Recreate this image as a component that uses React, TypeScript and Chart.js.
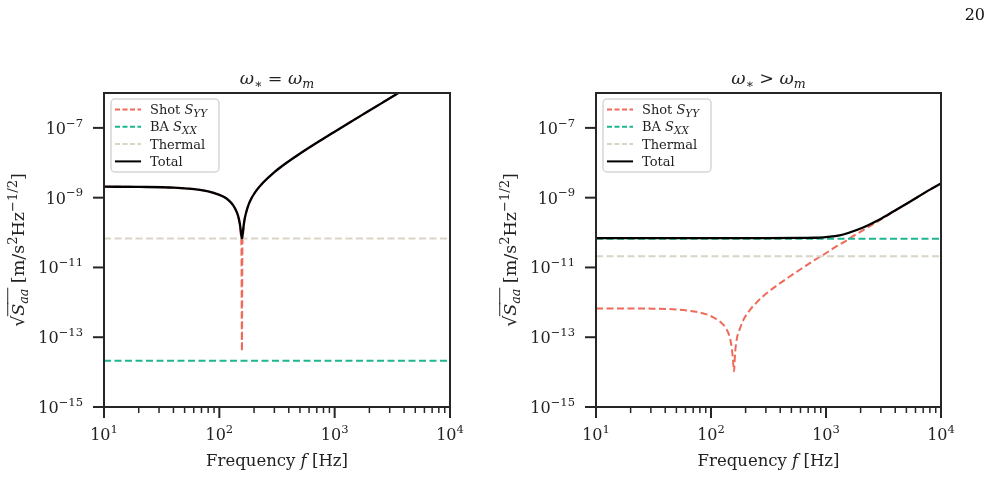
import React, { useEffect, useRef } from 'react';
import { Chart, registerables } from 'chart.js';
Chart.register(...registerables);

const FONT = "'DejaVu Serif', 'Liberation Serif', serif";
const RED = '#ef6a5a';
const GREEN = '#1fb58f';
const BEIGE = '#d8d4c6';
const FRAME = '#262626';

const X_MIN = 10;
const X_MAX = 1e4;
const Y_MIN = 1e-15;
const Y_MAX = 1e-6;
const xMajorTicks = [10, 100, 1000, 10000];
const xMajorExps = ['1', '2', '3', '4'];
const xMinorMult = [2, 3, 4, 5, 6, 7, 8, 9];
const yMajorTicks = [1e-15, 1e-13, 1e-11, 1e-9, 1e-7];
const yMajorExps = ['−15', '−13', '−11', '−9', '−7'];

// Left panel: omega_* = omega_m
const leftFreq = [10, 20, 40, 67.6, 80, 100, 110, 120, 131.5, 140, 145, 150, 154, 155.5, 157, 158.5, 160, 165, 172, 180, 190, 200, 210, 240, 292, 370, 498, 700, 968, 1350, 1887, 2600, 3400, 3800];
const leftTotal = [2.06e-9, 2.03e-9, 1.94e-9, 1.68e-9, 1.52e-9, 1.2e-9, 1.04e-9, 8.5e-10, 6.1e-10, 4.2e-10, 3.1e-10, 1.92e-10, 1.03e-10, 7.7e-11, 6.8e-11, 7.7e-11, 1.04e-10, 2.25e-10, 4.1e-10, 6.5e-10, 9.6e-10, 1.28e-9, 1.62e-9, 2.72e-9, 5.0e-9, 9.2e-9, 1.82e-8, 3.75e-8, 7.3e-8, 1.43e-7, 2.79e-7, 5.3e-7, 9.06e-7, 1.12e-6];
const leftShot = [2.06e-9, 2.03e-9, 1.94e-9, 1.68e-9, 1.52e-9, 1.2e-9, 1.04e-9, 8.5e-10, 6.1e-10, 4.2e-10, 3.0e-10, 1.8e-10, 7.8e-11, 3.8e-11, 3.9e-14, 3.8e-11, 7.9e-11, 2.15e-10, 4.1e-10, 6.5e-10, 9.6e-10, 1.28e-9, 1.62e-9, 2.72e-9, 5.0e-9, 9.2e-9, 1.82e-8, 3.75e-8, 7.3e-8, 1.43e-7, 2.79e-7, 5.3e-7, 9.06e-7, 1.12e-6];
const leftFlatFreq = [10, 10000];
const leftBA = [2.1e-14, 2.1e-14];
const leftThermal = [6.7e-11, 6.7e-11];

// Right panel: omega_* > omega_m
const rightShotFreq = [10, 30, 65.7, 90, 105, 120, 132, 145, 151, 155, 158.5, 162, 167, 180, 191, 220, 250, 300, 372, 480, 635, 800, 948, 1200, 1413, 1849, 2300, 2756, 3400, 4120, 5500, 8020, 10000];
const rightShot = [6.7e-13, 6.6e-13, 5.7e-13, 4.6e-13, 3.7e-13, 2.8e-13, 2.0e-13, 1.05e-13, 5.4e-14, 2.5e-14, 1.05e-14, 3.5e-14, 8.3e-14, 1.9e-13, 3.1e-13, 6.3e-13, 1.0e-12, 1.75e-12, 3.0e-12, 5.4e-12, 1.0e-11, 1.65e-11, 2.3e-11, 3.8e-11, 5.2e-11, 9.1e-11, 1.4e-10, 2.0e-10, 3.05e-10, 4.5e-10, 8.0e-10, 1.7e-9, 2.55e-9];
const rightTotalFreq = [10, 100, 300, 600, 800, 948, 1200, 1413, 1849, 2300, 2756, 3400, 4120, 5500, 8020, 10000];
const rightTotal = [6.93e-11, 6.93e-11, 6.93e-11, 7.0e-11, 7.1e-11, 7.3e-11, 7.9e-11, 8.8e-11, 1.18e-10, 1.6e-10, 2.15e-10, 3.15e-10, 4.55e-10, 8.05e-10, 1.7e-9, 2.55e-9];
const rightFlatFreq = [10, 10000];
const rightBA = [6.6e-11, 6.6e-11];
const rightThermal = [2.1e-11, 2.1e-11];

type Seg = { t: string; it?: boolean; s?: number; dy?: number; over?: boolean };

function setFont(ctx: CanvasRenderingContext2D, size: number, it?: boolean) {
  ctx.font = `${it ? 'italic ' : ''}${size}px ${FONT}`;
}
function richWidth(ctx: CanvasRenderingContext2D, segs: Seg[], size: number) {
  let w = 0;
  for (const g of segs) {
    setFont(ctx, size * (g.s ?? 1), g.it);
    w += ctx.measureText(g.t).width;
  }
  return w;
}
function drawRich(ctx: CanvasRenderingContext2D, segs: Seg[], x: number, y: number, size: number, align: 'left' | 'center' | 'right', color = '#222') {
  const w = richWidth(ctx, segs, size);
  let cx = align === 'center' ? x - w / 2 : align === 'right' ? x - w : x;
  ctx.textAlign = 'left';
  ctx.textBaseline = 'alphabetic';
  ctx.fillStyle = color;
  for (const g of segs) {
    const sz = size * (g.s ?? 1);
    setFont(ctx, sz, g.it);
    const gw = ctx.measureText(g.t).width;
    ctx.fillText(g.t, cx, y - (g.dy ?? 0) * size);
    if (g.over) {
      ctx.save();
      ctx.strokeStyle = color;
      ctx.lineWidth = size * 0.055;
      ctx.beginPath();
      ctx.moveTo(cx - 0.5, y - size * 0.93);
      ctx.lineTo(cx + gw + 1, y - size * 0.93);
      ctx.stroke();
      ctx.restore();
    }
    cx += gw;
  }
}

const yLabel: Seg[] = [
  { t: '√' },
  { t: 'S', it: true, over: true },
  { t: 'aa', it: true, s: 0.72, dy: -0.22, over: true },
  { t: ' [m/s' },
  { t: '2', s: 0.75, dy: 0.42 },
  { t: 'Hz' },
  { t: '−1/2', s: 0.75, dy: 0.42 },
  { t: ']' },
];
const xLabel: Seg[] = [{ t: 'Frequency ' }, { t: 'f', it: true }, { t: ' [Hz]' }];

type LegendItem = { segs: Seg[]; color: string; dash: number[]; width: number };
const legendItems: LegendItem[] = [
  { segs: [{ t: 'Shot ' }, { t: 'S', it: true }, { t: 'YY', it: true, s: 0.8, dy: -0.22 }], color: RED, dash: [5, 2.5], width: 2 },
  { segs: [{ t: 'BA ' }, { t: 'S', it: true }, { t: 'XX', it: true, s: 0.8, dy: -0.22 }], color: GREEN, dash: [5, 2.5], width: 2 },
  { segs: [{ t: 'Thermal' }], color: BEIGE, dash: [5, 2.5], width: 2 },
  { segs: [{ t: 'Total' }], color: '#000', dash: [], width: 2 },
];

function makeDecor(title: Seg[], pageNumber?: { x: number; y: number; text: string }) {
  return {
    id: 'decor',
    afterDraw(chart: any) {
      const ctx: CanvasRenderingContext2D = chart.ctx;
      const a = chart.chartArea;
      const xs = chart.scales.x;
      const ys = chart.scales.y;
      ctx.save();
      ctx.strokeStyle = FRAME;
      ctx.lineWidth = 2;
      ctx.setLineDash([]);
      ctx.strokeRect(a.left, a.top, a.right - a.left, a.bottom - a.top);
      ctx.lineCap = 'butt';
      xMajorTicks.forEach((v, i) => {
        const px = xs.getPixelForValue(v);
        ctx.strokeStyle = FRAME;
        ctx.lineWidth = 2;
        ctx.beginPath();
        ctx.moveTo(px, a.bottom);
        ctx.lineTo(px, a.bottom + 11);
        ctx.stroke();
        drawRich(ctx, [{ t: '10' }, { t: xMajorExps[i], s: 0.72, dy: 0.45 }], px, a.bottom + 33, 16, 'center');
        if (v < X_MAX) {
          xMinorMult.forEach((m) => {
            const mx = xs.getPixelForValue(v * m);
            ctx.strokeStyle = FRAME;
            ctx.lineWidth = 1.5;
            ctx.beginPath();
            ctx.moveTo(mx, a.bottom);
            ctx.lineTo(mx, a.bottom + 6);
            ctx.stroke();
          });
        }
      });
      yMajorTicks.forEach((v, i) => {
        const py = ys.getPixelForValue(v);
        ctx.strokeStyle = FRAME;
        ctx.lineWidth = 2;
        ctx.beginPath();
        ctx.moveTo(a.left, py);
        ctx.lineTo(a.left - 11, py);
        ctx.stroke();
        drawRich(ctx, [{ t: '10' }, { t: yMajorExps[i], s: 0.72, dy: 0.45 }], a.left - 21, py + 6, 16, 'right');
      });
      drawRich(ctx, xLabel, (a.left + a.right) / 2, a.bottom + 59, 16.5, 'center');
      ctx.save();
      ctx.translate(a.left - 80, (a.top + a.bottom) / 2);
      ctx.rotate(-Math.PI / 2);
      drawRich(ctx, yLabel, 0, 0, 17.5, 'center');
      ctx.restore();
      drawRich(ctx, title, (a.left + a.right) / 2, a.top - 9, 17.5, 'center');
      const bx = a.left + 7;
      const by = a.top + 6;
      const bw = 108;
      const bh = 73;
      ctx.beginPath();
      (ctx as any).roundRect(bx, by, bw, bh, 4);
      ctx.fillStyle = 'rgba(255,255,255,0.85)';
      ctx.fill();
      ctx.strokeStyle = '#d6d6d6';
      ctx.lineWidth = 1.5;
      ctx.stroke();
      legendItems.forEach((it, i) => {
        const ry = by + 10.5 + i * 17.3;
        ctx.strokeStyle = it.color;
        ctx.lineWidth = it.width;
        ctx.setLineDash(it.dash);
        ctx.beginPath();
        ctx.moveTo(bx + 4, ry);
        ctx.lineTo(bx + 30, ry);
        ctx.stroke();
        ctx.setLineDash([]);
        drawRich(ctx, it.segs, bx + 39, ry + 4.5, 13, 'left');
      });
      if (pageNumber) {
        drawRich(ctx, [{ t: pageNumber.text }], pageNumber.x, pageNumber.y, 16, 'right', '#111');
      }
      ctx.restore();
    },
  };
}

function pts(xs: number[], ys: number[]) {
  return xs.map((x, i) => ({ x, y: ys[i] }));
}

type PanelProps = {
  left: number;
  width: number;
  pad: { left: number; right: number; top: number; bottom: number };
  title: Seg[];
  shotX: number[];
  shotY: number[];
  totalX: number[];
  totalY: number[];
  flatX: number[];
  ba: number[];
  thermal: number[];
  pageNumber?: { x: number; y: number; text: string };
};

function Panel(p: PanelProps) {
  const ref = useRef<HTMLCanvasElement | null>(null);
  useEffect(() => {
    if (!ref.current) return;
    const dashed = { borderWidth: 2, pointRadius: 0, borderDash: [7, 3.5], fill: false };
    const chart = new Chart(ref.current, {
      type: 'line',
      data: {
        datasets: [
          { label: 'Total', data: pts(p.totalX, p.totalY), borderColor: '#000', borderWidth: 2.3, pointRadius: 0, fill: false, cubicInterpolationMode: 'monotone', order: 0 } as any,
          { label: 'Thermal', data: pts(p.flatX, p.thermal), borderColor: BEIGE, ...dashed, order: 1 } as any,
          { label: 'BA', data: pts(p.flatX, p.ba), borderColor: GREEN, ...dashed, order: 2 } as any,
          { label: 'Shot', data: pts(p.shotX, p.shotY), borderColor: RED, ...dashed, cubicInterpolationMode: 'monotone', order: 3 } as any,
        ],
      },
      options: {
        animation: false,
        responsive: false,
        events: [],
        layout: { padding: p.pad },
        plugins: { legend: { display: false }, tooltip: { enabled: false } },
        scales: {
          x: { type: 'logarithmic', min: X_MIN, max: X_MAX, display: false },
          y: { type: 'logarithmic', min: Y_MIN, max: Y_MAX, display: false },
        },
      },
      plugins: [makeDecor(p.title, p.pageNumber)],
    } as any);
    return () => chart.destroy();
  }, []);
  return (
    <canvas
      ref={ref}
      width={p.width}
      height={477}
      style={{ position: 'absolute', left: p.left, top: 0, width: p.width, height: 477 }}
    />
  );
}

export default function App() {
  return (
    <div style={{ position: 'fixed', left: 0, top: 0, width: 994, height: 477, background: '#fff', overflow: 'hidden' }}>
      <Panel
        left={0}
        width={490}
        pad={{ left: 104, right: 40, top: 93, bottom: 70 }}
        title={[{ t: 'ω', it: true }, { t: '∗', s: 0.7, dy: -0.2 }, { t: ' = ' }, { t: 'ω', it: true }, { t: 'm', it: true, s: 0.72, dy: -0.2 }]}
        shotX={leftFreq}
        shotY={leftShot}
        totalX={leftFreq}
        totalY={leftTotal}
        flatX={leftFlatFreq}
        ba={leftBA}
        thermal={leftThermal}
      />
      <Panel
        left={490}
        width={504}
        pad={{ left: 106, right: 53, top: 93, bottom: 70 }}
        title={[{ t: 'ω', it: true }, { t: '∗', s: 0.7, dy: -0.2 }, { t: ' > ' }, { t: 'ω', it: true }, { t: 'm', it: true, s: 0.72, dy: -0.2 }]}
        shotX={rightShotFreq}
        shotY={rightShot}
        totalX={rightTotalFreq}
        totalY={rightTotal}
        flatX={rightFlatFreq}
        ba={rightBA}
        thermal={rightThermal}
        pageNumber={{ x: 495, y: 20, text: '20' }}
      />
    </div>
  );
}
